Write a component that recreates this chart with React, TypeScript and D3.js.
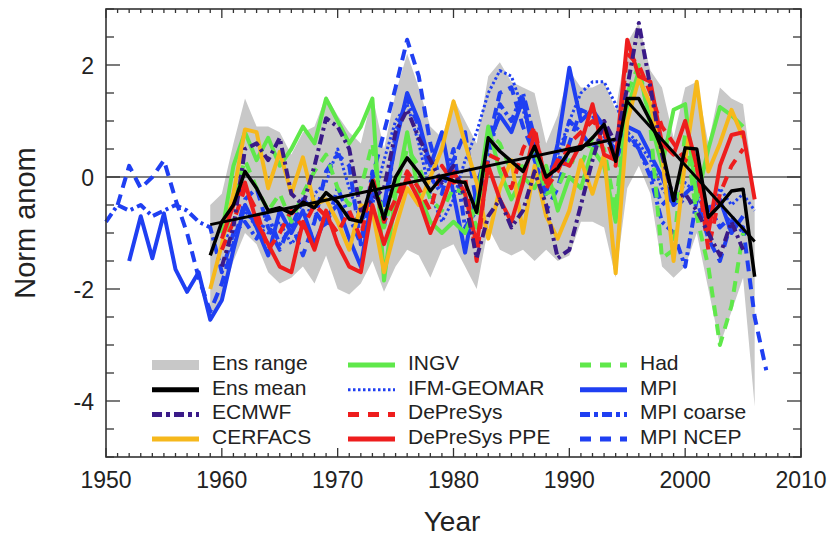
import React from 'react';
import * as d3 from 'd3';

// ensemble statistics (1959-2006)
const ensStart = 1959;
const ensUpper = [-0.5, -0.3, 0.6, 1.4, 0.9, 0.9, 0.8, 0.4, 0.8, 0.9, 1.45, 1.1, 0.8, 0.6, 1.45, 0.5, 1.5, 2.2, 1.6, 0.9,
  0.7, 1.4, 1.0, 0.6, 1.8, 2.05, 1.7, 1.6, 1.5, 0.6, 1.1, 1.9, 1.6, 1.6, 1.7, 1.2, 2.4, 2.75, 1.9, 1.6,
  0.7, 1.6, 1.7, 0.6, 1.6, 1.4, 1.3, -0.3];
const ensLower = [-2.6, -2.2, -1.5, -1.0, -1.2, -1.7, -1.9, -1.8, -1.6, -1.9, -1.4, -2.0, -2.1, -1.9, -1.5, -2.05, -1.6, -1.3, -1.4, -1.8,
  -1.3, -1.2, -1.6, -2.0, -0.9, -1.3, -1.4, -1.3, -1.5, -1.3, -1.5, -1.4, -0.8, -0.8, -0.9, -1.8, -0.2, 0.2, -0.3, -1.6,
  -1.8, -1.6, -1.0, -2.0, -3.0, -2.4, -1.8, -4.1];
const ensMean = [-1.4, -0.8, -0.5, 0.1, -0.2, -0.6, -0.55, -0.65, -0.45, -0.55, -0.28, -0.45, -0.75, -0.8, -0.07, -0.75, 0.0, 0.34, 0.08, -0.25,
  0.0, -0.07, -0.1, -0.63, 0.7, 0.46, 0.28, 0.1, 0.55, 0.0, 0.16, 0.46, 0.5, 0.7, 0.94, 0.28, 1.4, 1.4, 1.0, 0.5,
  -0.42, 0.52, 0.5, -0.72, -0.5, -0.25, -0.22, -1.78];
// linear trends, two periods
const trendEarly: [number, number][] = [[1959, -0.85], [1994, 0.68]];
const trendLate: [number, number][] = [[1995, 1.35], [2006, -1.15]];

// members
const ecmwf = [-1.6, -0.9, 0.5, 0.6, 0.3, 0.7, -0.3, -0.5, 0.2, 1.05, 0.9, 0.5, -0.6, -0.4, -0.2, 0.8, 1.2, 0.7, 0.3, -0.1,
  0.2, -0.4, -1.45, -0.7, -0.4, -0.9, -0.6, 0.1, -0.5, -1.45, -1.3, -0.5, 0.3, 1.0, 0.6, 1.6, 2.75, 1.6, 0.4, -0.4,
  -0.3, -0.6, -1.0, -1.4, -0.8, -1.3];
const cerfacs = [-2.0, -1.2, -0.3, 0.85, 0.8, -0.2, 0.45, -0.3, 0.35, -0.5, -0.4, -0.8, -1.3, -0.5, -0.6, -1.7, -0.9, -0.2, -0.5, 0.0,
  0.5, 1.35, 0.6, -0.1, -1.1, -0.2, 0.3, -1.0, 0.2, -0.7, -1.1, -0.6, 0.3, -0.3, 0.4, -1.72, 1.0, 1.75, 1.3, 0.4,
  -1.5, 0.3, 1.7, 0.1, 0.6, 1.2, 0.7];
const ingv = [-1.0, 0.2, 0.8, 0.3, 0.7, 0.2, 0.5, 0.9, 0.6, 1.4, 1.0, 0.6, 0.9, 1.4, -1.85, -0.3, 0.8, -0.3, -0.8, -1.0,
  -0.8, -1.0, -0.5, 0.9, 0.1, -0.4, 0.0, -0.2, 0.2, -0.6, 0.0, -0.2, 0.5, 0.2, -0.8, 1.2, 1.9, 1.0, 0.2, 1.2,
  1.3, -0.4, 0.5, 1.25, 1.1, 0.9];
const ifm = [-1.0, -1.1, -0.6, -0.9, -1.0, -0.8, -1.2, -0.9, -0.3, -0.1, 0.5, -0.2, -0.8, -0.5, 0.3, 1.0, 1.3, 0.6, -0.3, -0.8,
  -0.4, 0.3, 0.8, 1.5, 1.9, 1.8, 1.2, 0.5, 0.0, 0.4, 1.0, 1.5, 1.7, 1.7, 1.3, 0.8, 0.6, 0.3, -0.2, -0.5,
  -0.1, -0.3, -0.8, -0.2, -0.5, -0.3, -0.6];
const depresys = [-1.3, -0.8, -0.2, -0.6, -1.3, -1.0, -0.6, -0.9, -0.5, -0.7, -1.0, -0.6, -1.1, 0.0, -0.8, -0.4, 0.1, -0.2, -0.6, 0.2,
  -0.1, 0.0, -1.5, 0.4, 0.3, -0.2, 0.5, 0.9, -0.2, 0.1, 0.6, 0.8, 1.0, 0.8, 0.2, 2.2, 2.0, 1.5, 0.9, 0.6,
  0.3, 0.2, -1.3, -0.3, 0.2, 0.5];
const depresysPpe = [-1.1, -0.5, -0.1, -0.8, -1.2, -1.6, -1.7, -0.8, -1.3, -0.6, -1.2, -1.6, -1.7, -0.5, -1.2, -0.6, 0.0, -0.4, -1.0, -0.5,
  0.1, -0.3, -1.2, 0.2, -0.4, -0.8, -0.1, 0.8, -0.1, 0.3, 0.2, 0.6, 1.3, 0.4, 0.3, 2.45, 1.8, 1.7, 0.6, 0.4,
  1.0, 0.2, -1.0, 0.2, 0.75, 0.8, -0.4];
const had = [-1.3, -0.4, 0.3, -0.2, -0.6, -0.3, -0.8, -0.3, 0.1, 0.4, -0.2, -0.5, -0.2, 0.6, -0.9, -0.2, 0.5, 0.2, -0.4, -0.6,
  -0.2, -0.3, -0.9, 0.8, 0.6, 0.1, 0.2, 0.5, -0.3, -0.2, 0.3, 0.2, 0.7, 0.5, -0.6, 1.5, 2.0, 0.9, -1.45, -1.3,
  0.8, -0.7, -1.6, -3.0, -2.3, -1.0];
const mpi = [-1.5, -0.7, -1.45, -0.65, -1.65, -2.05, -1.7, -2.55, -2.2, -1.3, -0.5, -0.9, -1.4, -0.6, -1.0, -0.6, -1.2, -0.7, -0.5, -1.1,
  -1.6, -0.3, -0.5, 0.6, 1.5, 1.0, 0.2, 0.8, -0.3, -1.35, -0.2, 0.6, 1.1, 0.8, 1.4, 0.3, -0.3, 0.6, 1.95, 1.0,
  1.2, 0.9, 0.4, 0.9, 0.8, 0.4, 0.0, -0.5, -0.3, -0.1, -0.6, -0.4, -1.0, -0.7];
const mpiCoarse = [-0.8, -0.5, -0.6, -0.5, -0.7, -0.6, -0.5, -0.6, -0.8, -0.9, -1.7, -1.0, -0.8, -1.1, -0.7, -1.2, -0.9, -0.4, -0.6, -0.9,
  -0.2, -0.7, -1.2, 0.1, -0.9, 0.8, 1.4, 0.9, 0.0, -0.3, 0.5, -0.9, -0.6, 0.3, 1.3, 1.0, 1.5, 0.7, -0.1, 0.2,
  1.0, 0.8, 0.5, 0.7, 0.5, 0.7, 0.5, 0.0, -0.8, -1.0, -1.6, -0.4, -0.5, -0.9, -0.7, -1.0];
const mpiNcep = [-0.5, 0.2, -0.2, 0.0, 0.3, -0.4, -1.0, -1.8, -2.4, -1.9, -1.2, -0.4, -0.2, -0.9, -1.3, -0.8, -1.4, -0.8, 0.1, 0.4,
  0.2, -1.2, 0.0, 0.8, 1.6, 2.45, 1.8, 0.6, -0.2, 0.3, 0.8, -0.5, 0.6, 1.5, 1.6, 0.9, 0.4, -0.6, -0.2, 0.6,
  1.2, 1.1, 0.8, 0.3, 0.8, 0.5, 0.1, -0.5, -0.3, -0.5, -0.4, -1.1, -1.5, -0.8, -0.9, -2.5, -3.45];

const xTickLabels = [1950, 1960, 1970, 1980, 1990, 2000, 2010];
const yTickLabels = [-4, -2, 0, 2];

const GREEN = '#5fe84a';
const BLUE = '#1f3ff2';
const RED = '#ee1d1d';
const GOLD = '#f6b81c';
const INDIGO = '#3a1a88';
const GRAY = '#c8c8c8';

const members = [
  { name: 'MPI NCEP', start: 1951, values: mpiNcep, color: BLUE, dash: '11,7', w: 4 },
  { name: 'MPI coarse', start: 1950, values: mpiCoarse, color: BLUE, dash: '10,4,3,4', w: 4 },
  { name: 'MPI', start: 1952, values: mpi, color: BLUE, dash: null, w: 4 },
  { name: 'IFM-GEOMAR', start: 1960, values: ifm, color: BLUE, dash: '2.5,2.5', w: 3 },
  { name: 'Had', start: 1960, values: had, color: GREEN, dash: '11,8', w: 4 },
  { name: 'INGV', start: 1960, values: ingv, color: GREEN, dash: null, w: 4 },
  { name: 'CERFACS', start: 1959, values: cerfacs, color: GOLD, dash: null, w: 4 },
  { name: 'DePreSys', start: 1960, values: depresys, color: RED, dash: '11,8', w: 4 },
  { name: 'DePreSys PPE', start: 1960, values: depresysPpe, color: RED, dash: null, w: 4 },
  { name: 'ECMWF', start: 1960, values: ecmwf, color: INDIGO, dash: '10,4,3,4', w: 4 },
];

const legendItems = [
  { label: 'Ens range', color: GRAY, dash: null, w: 10 },
  { label: 'Ens mean', color: '#000', dash: null, w: 5 },
  { label: 'ECMWF', color: INDIGO, dash: '10,4,4,4', w: 5 },
  { label: 'CERFACS', color: GOLD, dash: null, w: 5 },
  { label: 'INGV', color: GREEN, dash: null, w: 5 },
  { label: 'IFM-GEOMAR', color: BLUE, dash: '2.5,2.5', w: 3 },
  { label: 'DePreSys', color: RED, dash: '11,9', w: 5 },
  { label: 'DePreSys PPE', color: RED, dash: null, w: 5 },
  { label: 'Had', color: GREEN, dash: '11,9', w: 5 },
  { label: 'MPI', color: BLUE, dash: null, w: 5 },
  { label: 'MPI coarse', color: BLUE, dash: '10,4,4,4', w: 5 },
  { label: 'MPI NCEP', color: BLUE, dash: '11,9', w: 5 },
];

export default function App() {
  const width = 831, height = 536;
  const margin = { top: 9, right: 30, bottom: 79, left: 106 };
  const x = d3.scaleLinear([1950, 2010], [margin.left, width - margin.right]);
  const y = d3.scaleLinear([-5, 3], [height - margin.bottom, margin.top]);
  const font = 'Liberation Sans, Arial, Helvetica, sans-serif';

  const line = d3.line<[number, number]>().x(d => x(d[0])).y(d => y(d[1]));
  const pts = (start: number, vals: number[]) => vals.map((v, i) => [start + i, v] as [number, number]);
  const band = d3.area<number>()
    .x((_, i) => x(ensStart + i))
    .y0((_, i) => y(ensLower[i]))
    .y1(d => y(d));

  const x0 = x.range()[0], x1 = x.range()[1];
  const yb = y.range()[0], yt = y.range()[1];
  const minorX = d3.range(1950, 2011);
  const minorY = d3.range(-5, 3.01, 0.5);

  const legCols = [152, 348, 580];
  const legRow0 = 370, legStep = 24.7;

  return (
    <svg width={width} height={height} style={{ position: 'absolute', left: 0, top: 0, background: '#fff' }}>
      <path d={band(ensUpper) || ''} fill={GRAY} />
      <line x1={x0} x2={x1} y1={y(0)} y2={y(0)} stroke="#555" strokeWidth={1.5} />
      {members.map(m => (
        <path key={m.name} d={line(pts(m.start, m.values)) || ''} fill="none" stroke={m.color}
          strokeWidth={m.w} strokeDasharray={m.dash || undefined} strokeLinejoin="round" />
      ))}
      <path d={line(pts(ensStart, ensMean)) || ''} fill="none" stroke="#000" strokeWidth={3.5} strokeLinejoin="round" />
      <path d={line(trendEarly) || ''} fill="none" stroke="#000" strokeWidth={3} />
      <path d={line(trendLate) || ''} fill="none" stroke="#000" strokeWidth={3} />

      {/* frame and ticks */}
      <rect x={x0} y={yt} width={x1 - x0} height={yb - yt} fill="none" stroke="#333" strokeWidth={1.6} />
      {minorX.map(t => {
        const len = t % 10 === 0 ? 9 : 4;
        return (
          <g key={'x' + t} stroke="#333" strokeWidth={1.3}>
            <line x1={x(t)} x2={x(t)} y1={yb} y2={yb - len} />
            <line x1={x(t)} x2={x(t)} y1={yt} y2={yt + len} />
          </g>
        );
      })}
      {minorY.map(t => {
        const len = Math.abs(t % 2) < 1e-6 ? 14 : 8;
        return (
          <g key={'y' + t} stroke="#333" strokeWidth={1.3}>
            <line x1={x0} x2={x0 + len} y1={y(t)} y2={y(t)} />
            <line x1={x1} x2={x1 - len} y1={y(t)} y2={y(t)} />
          </g>
        );
      })}
      {xTickLabels.map(t => (
        <text key={'xl' + t} x={x(t)} y={488} textAnchor="middle" fontFamily={font} fontSize={23} fill="#222">{t}</text>
      ))}
      {yTickLabels.map(t => (
        <text key={'yl' + t} x={x0 - 12} y={y(t) + 8.5} textAnchor="end" fontFamily={font} fontSize={23} fill="#222">{t}</text>
      ))}
      <text x={452} y={531} textAnchor="middle" fontFamily={font} fontSize={28} fill="#222">Year</text>
      <text transform={`translate(35,223) rotate(-90)`} textAnchor="middle" fontFamily={font} fontSize={29} fill="#222">Norm anom</text>

      {/* legend */}
      {legendItems.map((it, i) => {
        const cx = legCols[Math.floor(i / 4)];
        const by = legRow0 + (i % 4) * legStep;
        return (
          <g key={it.label}>
            <line x1={cx} x2={cx + 47} y1={by - 5} y2={by - 5} stroke={it.color} strokeWidth={it.w}
              strokeDasharray={it.dash || undefined} />
            <text x={cx + 60} y={by} fontFamily={font} fontSize={21} fill="#222">{it.label}</text>
          </g>
        );
      })}
    </svg>
  );
}
